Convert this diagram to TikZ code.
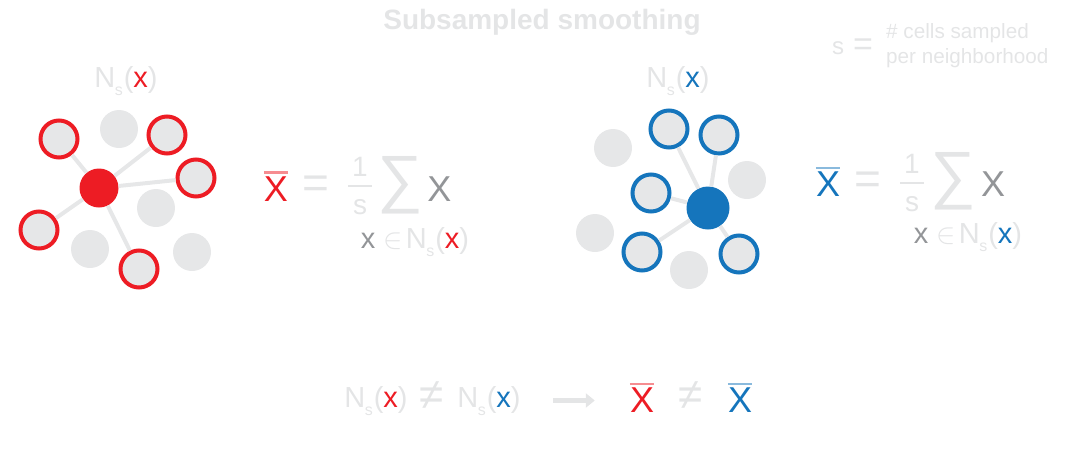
\RequirePackage{fix-cm}
\documentclass[tikz,border=0pt]{standalone}
\usepackage{fontspec}
\setmainfont{Liberation Sans}
\usepackage{graphicx}
\usepackage{tikz}
\usetikzlibrary{arrows.meta}

\definecolor{cellred}{HTML}{ED1C24}
\definecolor{cellblue}{HTML}{1575BC}
\definecolor{cellgray}{HTML}{E6E7E8}
\definecolor{faint}{HTML}{E4E5E6}
\definecolor{midgray}{HTML}{939598}

\newcommand{\fs}[1]{\fontsize{#1}{#1}\selectfont}
\newcommand{\Ns}[1]{N\kern-0.5pt\raisebox{-0.3em}{\scalebox{0.55}{s}}\kern1pt(#1)}
\newcommand{\onefrac}{{\setlength\arrayrulewidth{2pt}\begin{tabular}{@{\kern4pt}c@{\kern4pt}}1\\[-0.5pt]\hline\rule{0pt}{28pt}s\end{tabular}}}

\begin{document}
\begin{tikzpicture}[x=1pt,y=-1pt, every node/.style={inner sep=0pt},
  cell/.style={circle,fill=cellgray,minimum size=38pt},
  redcell/.style={cell,draw=cellred,line width=4pt,minimum size=37pt},
  bluecell/.style={cell,draw=cellblue,line width=4pt,minimum size=37pt},
  redhub/.style={circle,fill=cellred,minimum size=39pt},
  bluehub/.style={circle,fill=cellblue,minimum size=43pt},
  link/.style={draw=cellgray,line width=4pt},
  txt/.style={text=faint},
  nset/.style={txt,font=\fs{29},anchor=base},
  bigx/.style={font=\fs{36}},
  redbar/.style={draw=cellred!50,line width=2.5pt},
  bluebar/.style={draw=cellblue!50,line width=2.5pt},
  arrow/.style={draw=faint,line width=4.5pt,-{Triangle[length=9pt,width=14pt]}}]
 \useasboundingbox (0,0) rectangle (1085,458);
 \node[txt,font=\bfseries\fs{28}] (title) at (542,22) {Subsampled smoothing};
 \node[txt,font=\fs{24}] (sdef) at (838,48) {s};
 \node[txt,font=\fs{34}] (sdefeq) at (863,47) {=};
 \node[txt,font=\fontsize{20.7}{25}\selectfont,align=left,anchor=west] (sdeftext) at (886,46) {\# cells sampled\\per neighborhood};

 % left neighborhood
 \node[redhub] (rc) at (99,188) {};
 \node[redcell] (r1) at (59,139) {};
 \node[redcell] (r2) at (167,135) {};
 \node[redcell] (r3) at (196,178) {};
 \node[redcell] (r4) at (39,230) {};
 \node[redcell] (r5) at (139,269) {};
 \node[cell] (g1) at (119,129) {};
 \node[cell] (g2) at (156,208) {};
 \node[cell] (g3) at (90,249) {};
 \node[cell] (g4) at (192,252) {};
 \foreach \i in {1,...,5} \draw[link] (rc) -- (r\i);
 \node[nset] (nsl) at (126,87) {\Ns{\textcolor{cellred}{x}}};

 \node[bigx,text=cellred] (xl) at (276,189) {X};
 \draw[redbar] ([yshift=4pt]xl.north west) -- ([yshift=4pt]xl.north east);
 \node[txt,font=\fs{46}] (eql) at (315.5,187) {=};
 \node[txt,font=\fs{28},anchor=north] (fracl) at (360,157) {\onefrac};
 \node[txt,font=\fs{64}] (suml) at (400,185) {∑};
 \node[bigx,text=midgray] (xsl) at (439.5,189.5) {X};
 \node[nset] (subl) at (415,248) {\textcolor{midgray}{x} $\in$\kern3pt\Ns{\textcolor{cellred}{x}}};

 % right neighborhood
 \node[bluehub] (bc) at (708,208) {};
 \node[bluecell] (b1) at (669,129) {};
 \node[bluecell] (b2) at (719,135) {};
 \node[bluecell] (b3) at (651,193) {};
 \node[bluecell] (b4) at (642,252) {};
 \node[bluecell] (b5) at (739,254) {};
 \node[cell] (h1) at (613,148) {};
 \node[cell] (h2) at (747,180) {};
 \node[cell] (h3) at (595,233) {};
 \node[cell] (h4) at (689,270) {};
 \foreach \i in {1,...,5} \draw[link] (bc) -- (b\i);
 \node[nset] (nsr) at (678,87) {\Ns{\textcolor{cellblue}{x}}};

 \node[bigx,text=cellblue] (xr) at (828,184.5) {X};
 \draw[bluebar] ([yshift=4pt]xr.north west) -- ([yshift=4pt]xr.north east);
 \node[txt,font=\fs{46}] (eqr) at (868,183) {=};
 \node[txt,font=\fs{28},anchor=north] (fracr) at (912,154) {\onefrac};
 \node[txt,font=\fs{64}] (sumr) at (953,181.5) {∑};
 \node[bigx,text=midgray] (xsr) at (993,184) {X};
 \node[nset] (subr) at (968,243) {\textcolor{midgray}{x} $\in$\kern3pt\Ns{\textcolor{cellblue}{x}}};

 % bottom line
 \node[nset] (ns1) at (376,407) {\Ns{\textcolor{cellred}{x}}};
 \node[txt,font=\fs{44}] (neq1) at (432,396) {≠};
 \node[nset] (ns2) at (489,407) {\Ns{\textcolor{cellblue}{x}}};
 \node[bigx,text=cellred] (xbr) at (642,400.5) {X};
 \draw[redbar] ([yshift=4pt]xbr.north west) -- ([yshift=4pt]xbr.north east);
 \node[txt,font=\fs{44}] (neq2) at (691,396) {≠};
 \node[bigx,text=cellblue] (xbb) at (740,400.5) {X};
 \draw[bluebar] ([yshift=4pt]xbb.north west) -- ([yshift=4pt]xbb.north east);
 \draw[arrow,shorten <=32pt,shorten >=35pt] (ns2.east |- xbr) -- (xbr);
\end{tikzpicture}
\end{document}
